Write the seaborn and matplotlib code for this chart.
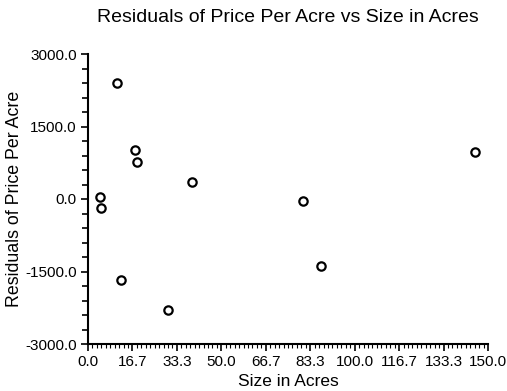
import matplotlib
matplotlib.use("Agg")
import matplotlib.pyplot as plt
import seaborn as sns
import numpy as np
import pandas as pd
from matplotlib.ticker import MultipleLocator, FixedLocator

size_acres = [10.8, 17.8, 18.4, 39.1, 4.5, 4.8, 12.4, 30.1, 145.1, 80.6, 87.3]
residuals = [2398, 1007, 760, 343, 41, -185, -1671, -2288, 966, -48, -1391]

x_ticks = [0.0, 16.7, 33.3, 50.0, 66.7, 83.3, 100.0, 116.7, 133.3, 150.0]
y_ticks = [-3000.0, -1500.0, 0.0, 1500.0, 3000.0]

df = pd.DataFrame({"Size": size_acres, "Resid": residuals})

sns.set_style("white")
plt.rcParams['font.family'] = ['Liberation Sans', 'DejaVu Sans']

fig = plt.figure(figsize=(5.07, 3.91), dpi=100)
ax = fig.add_axes([88/507, 1-344/391, 400/507, 290/391])

sns.scatterplot(data=df, x="Size", y="Resid", ax=ax, marker="o", s=36,
                facecolor="white", edgecolor="black", linewidth=1.6, zorder=3)

ax.set_xlim(0, 150)
ax.set_ylim(-3000, 3000)
xt = np.linspace(0, 150, 10)
ax.xaxis.set_major_locator(FixedLocator(xt))
ax.set_xticklabels([f"{v:.1f}" for v in x_ticks])
ax.xaxis.set_minor_locator(FixedLocator(np.linspace(0, 150, 91)))
ax.yaxis.set_major_locator(FixedLocator(y_ticks))
ax.set_yticklabels([f"{v:.1f}" for v in y_ticks])
ax.yaxis.set_minor_locator(MultipleLocator(300))

for s in ["top", "right"]:
    ax.spines[s].set_visible(False)
for s in ["left", "bottom"]:
    ax.spines[s].set_color("black")
    ax.spines[s].set_linewidth(1.5)

ax.tick_params(axis="both", which="major", direction="out", length=5, width=1.2,
               color="black", labelsize=11, labelcolor="black", pad=3,
               bottom=True, left=True)
ax.tick_params(axis="y", which="minor", direction="out", length=4, width=1.2,
               color="black", left=True)
ax.tick_params(axis="x", which="minor", direction="out", length=3, width=0.8,
               color="black", bottom=True)

ax.set_xlabel("Size in Acres", fontsize=12.5, color="black")
ax.set_ylabel("Residuals of Price Per Acre", fontsize=12.8, color="black")
ax.xaxis.set_label_coords(0.5, -0.103)
ax.yaxis.set_label_coords(-0.1625, 0.5)
fig.text(288/507, 1-18/391, "Residuals of Price Per Acre vs Size in Acres",
         ha="center", va="center", fontsize=14, color="black")

fig.savefig("out.png", dpi=100, facecolor="white")
